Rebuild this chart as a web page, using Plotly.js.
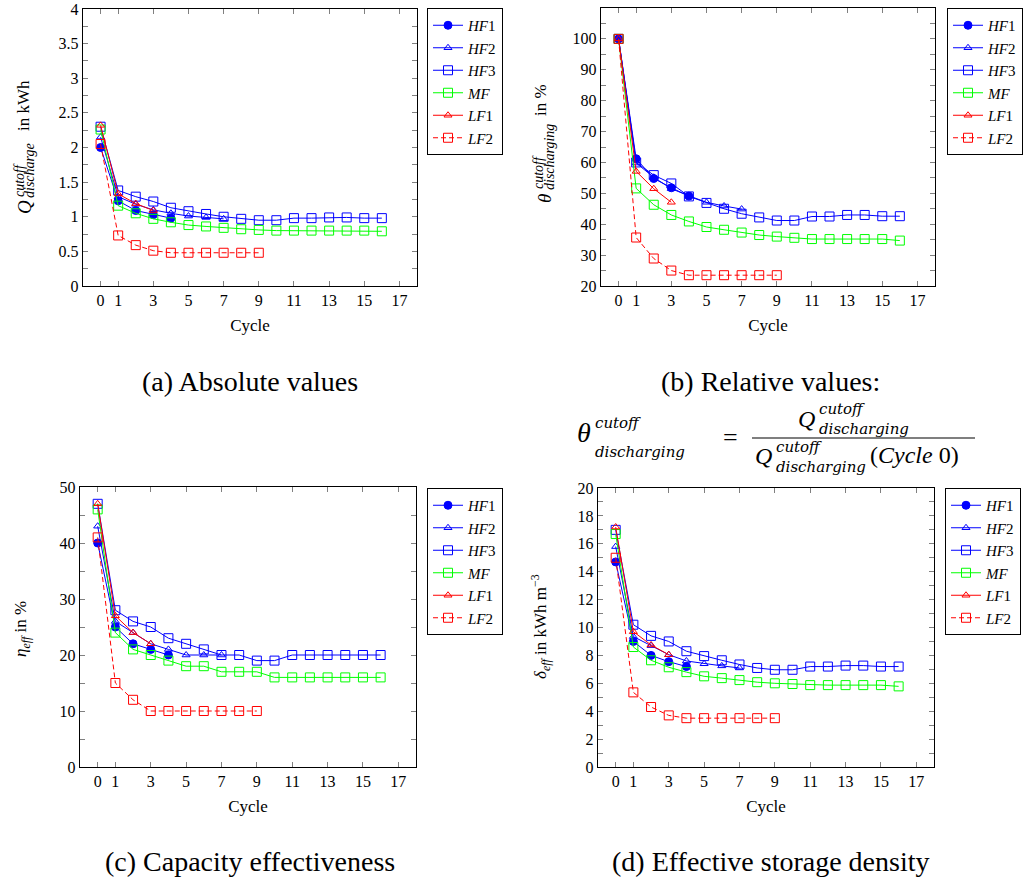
<!DOCTYPE html>
<html><head><meta charset="utf-8">
<script src="https://cdn.plot.ly/plotly-3.0.1.min.js"></script>
<style>html,body{margin:0;padding:0;background:#fff}#chart{width:1028px;height:888px}</style>
</head><body><div id="chart"></div>
<script>
// ---- categories (cycles) ----
const cyclesHF1 = [0,1,2,3,4];
const cyclesHF2 = [0,1,2,3,4,5,6,7];
const cyclesHF3 = [0,1,2,3,4,5,6,7,8,9,10,11,12,13,14,15,16];
const cyclesMF  = [0,1,2,3,4,5,6,7,8,9,10,11,12,13,14,15,16];
const cyclesLF1 = [0,1,2,3];
const cyclesLF2 = [0,1,2,3,4,5,6,7,8,9];

// ---- (a) absolute values, kWh ----
const absHF1 = [2.00,1.23,1.09,1.03,0.98];
const absHF2 = [2.15,1.29,1.18,1.10,1.05,1.01,0.99,0.97];
const absHF3 = [2.30,1.38,1.29,1.22,1.13,1.08,1.04,1.00,0.97,0.95,0.95,0.98,0.98,0.99,0.99,0.98,0.98];
const absMF  = [2.26,1.16,1.05,0.97,0.92,0.88,0.86,0.84,0.82,0.81,0.80,0.80,0.80,0.80,0.80,0.80,0.79];
const absLF1 = [2.32,1.33,1.19,1.09];
const absLF2 = [2.05,0.73,0.59,0.51,0.48,0.48,0.48,0.48,0.48,0.48];

// ---- (b) relative values, % ----
const relHF1 = [100,61.2,54.8,51.8,49.1];
const relHF2 = [100,59.8,55.2,51.5,49.2,47.1,45.9,44.9];
const relHF3 = [100,60.0,55.9,53.2,49.0,46.9,45.0,43.4,42.2,41.2,41.2,42.5,42.5,43.0,43.0,42.6,42.6];
const relMF  = [100,51.6,46.3,43.0,40.9,39.1,38.2,37.3,36.5,36.0,35.6,35.2,35.2,35.2,35.2,35.2,34.7];
const relLF1 = [100,57.1,51.5,47.1];
const relLF2 = [100,35.7,28.9,25.0,23.5,23.5,23.5,23.5,23.5,23.5];

// ---- (c) capacity effectiveness, % ----
const etaHF1 = [40,25,22,21,20];
const etaHF2 = [43,26,24,22,21,20,20,20];
const etaHF3 = [47,28,26,25,23,22,21,20,20,19,19,20,20,20,20,20,20];
const etaMF  = [46,24,21,20,19,18,18,17,17,17,16,16,16,16,16,16,16];
const etaLF1 = [47,27,24,22];
const etaLF2 = [41,15,12,10,10,10,10,10,10,10];

// ---- (d) effective storage density, kWh m^-3 ----
const delHF1 = [14.7,9.0,8.0,7.55,7.2];
const delHF2 = [15.8,9.35,8.7,8.05,7.6,7.4,7.25,7.1];
const delHF3 = [17.0,10.2,9.4,9.0,8.3,7.95,7.65,7.35,7.1,6.97,6.97,7.2,7.2,7.27,7.27,7.2,7.2];
const delMF  = [16.7,8.6,7.65,7.15,6.8,6.5,6.37,6.23,6.08,6.0,5.95,5.87,5.87,5.87,5.87,5.87,5.78];
const delLF1 = [17.2,9.7,8.75,8.05];
const delLF2 = [15.0,5.35,4.3,3.7,3.5,3.5,3.5,3.5,3.5,3.5];

// ---- series names / tick labels ----
const seriesNames = ['<i>HF</i>1','<i>HF</i>2','<i>HF</i>3','<i>MF</i>','<i>LF</i>1','<i>LF</i>2'];
const xTickVals = [0,1,3,5,7,9,11,13,15,17];

// ---- styles ----
const F = '"Liberation Serif", "DejaVu Serif", "Times New Roman", serif';
const FM = '"DejaVu Serif", "Liberation Serif", serif';
const BLUE='#0000ff', GREEN='#00ff00', RED='#ff0000';
const styles = [
  {color:BLUE, symbol:'circle', size:8, dash:'solid'},
  {color:BLUE, symbol:'triangle-up-open', size:7, dash:'solid'},
  {color:BLUE, symbol:'square-open', size:9, dash:'solid'},
  {color:GREEN, symbol:'square-open', size:9, dash:'solid'},
  {color:RED, symbol:'triangle-up-open', size:7, dash:'solid'},
  {color:RED, symbol:'square-open', size:9, dash:'5px,3px'}
];
const cycles = [cyclesHF1,cyclesHF2,cyclesHF3,cyclesMF,cyclesLF1,cyclesLF2];
const panels = [
  {vals:[absHF1,absHF2,absHF3,absMF,absLF1,absLF2], xa:'x', ya:'y', lg:'legend'},
  {vals:[relHF1,relHF2,relHF3,relMF,relLF1,relLF2], xa:'x2', ya:'y2', lg:'legend2'},
  {vals:[etaHF1,etaHF2,etaHF3,etaMF,etaLF1,etaLF2], xa:'x3', ya:'y3', lg:'legend3'},
  {vals:[delHF1,delHF2,delHF3,delMF,delLF1,delLF2], xa:'x4', ya:'y4', lg:'legend4'}
];
const traces = [];
panels.forEach(p => {
  p.vals.forEach((v,i) => {
    const s = styles[i];
    traces.push({
      type:'scatter', mode:'lines+markers', x:cycles[i], y:v, name:seriesNames[i],
      xaxis:p.xa, yaxis:p.ya, legend:p.lg,
      line:{color:s.color, width:1, dash:s.dash},
      marker:{symbol:s.symbol, size:s.size, color:s.color, line:{color:s.color, width:1}}
    });
  });
});

const W=1028, H=888;
const X = p => p/W;
const Y = p => 1 - p/H;

function xax(d0,d1,anchor){
  return {domain:[X(d0),X(d1)], anchor:anchor, range:[-1,18], tickmode:'array', tickvals:xTickVals,
    showline:true, linecolor:'#000', linewidth:1.2, mirror:'ticks', ticks:'inside', ticklen:5,
    tickcolor:'#808080', tickwidth:1, showgrid:false, zeroline:false,
    tickfont:{family:F,size:16,color:'#000'},
    title:{text:'Cycle', font:{family:F,size:17,color:'#000'}, standoff:10}};
}
function yax(d0,d1,anchor,range,tickvals,minorDt){
  return {domain:[Y(d1),Y(d0)], anchor:anchor, range:range, tickmode:'array', tickvals:tickvals,
    showline:true, linecolor:'#000', linewidth:1.2, mirror:'ticks', ticks:'inside', ticklen:5,
    tickcolor:'#808080', tickwidth:1, showgrid:false, zeroline:false,
    tickfont:{family:F,size:16,color:'#000'},
    minor:{ticks:'inside', ticklen:5, tickcolor:'#808080', tickmode:'linear', tick0:0, dtick:minorDt, showgrid:false}};
}
function legendAt(px,py){
  return {x:X(px), y:Y(py), xanchor:'left', yanchor:'top', bordercolor:'#000', borderwidth:1,
    bgcolor:'#fff', font:{family:F,size:15,color:'#000'}, tracegroupgap:0};
}
function ann(text,px,py,size,angle,xanchor,fam){
  return {text:text, x:X(px), y:Y(py), xref:'paper', yref:'paper', showarrow:false, borderpad:0,
    xanchor:xanchor||'center', yanchor:'middle', textangle:angle||0, font:{family:fam||F,size:size,color:'#000'}};
}

const annotations = [
  // y-axis titles
  ann('<i>Q</i>',24,207,19,-90), ann('<i>cutoff</i>',19,180,14,-90), ann('<i>discharge</i>',30,171,14,-90), ann('in kWh',23,106,17,-90),
  ann('<i>θ</i>',544,199,19,-90), ann('<i>cutoff</i>',538,172,14,-90), ann('<i>discharging</i>',549,157,14,-90), ann('in %',541,100,17,-90),
  ann('<i>η</i><sub><i>eff</i></sub> in %',22,629,17,-90),
  ann('<i>δ</i><sub><i>eff</i></sub> in kWh m<sup>−3</sup>',540,627,17,-90),
  // captions
  ann('(a) Absolute values',250,381,28), ann('(b) Relative values:',770,381,28),
  ann('(c) Capacity effectiveness',250,861,28), ann('(d) Effective storage density',770,861,28),
  // formula
  ann('<i>θ</i>',576,433,28,0,'left'), ann('<i>cutoff</i>',594,423,15,0,'left',FM), ann('<i>discharging</i>',594,452,15,0,'left',FM),
  ann('=',730,437,26),
  ann('<i>Q</i>',797,419,24,0,'left'), ann('<i>cutoff</i>',818,409,15,0,'left',FM), ann('<i>discharging</i>',818,429,15,0,'left',FM),
  ann('<i>Q</i>',754,456,24,0,'left'), ann('<i>cutoff</i>',775,447,15,0,'left',FM), ann('<i>discharging</i>',775,467,15,0,'left',FM),
  ann('(<i>Cycle</i> 0)',869,455,24,0,'left')
];

const layout = {
  width:W, height:H, margin:{l:0,r:0,t:0,b:0}, paper_bgcolor:'#fff', plot_bgcolor:'#fff',
  font:{family:F,color:'#000'}, showlegend:true,
  xaxis:xax(83,417,'y'),   yaxis:yax(9,286,'x',[0,4],[0,0.5,1,1.5,2,2.5,3,3.5,4],0.25),
  xaxis2:xax(601,935,'y2'), yaxis2:yax(8,286,'x2',[20,110],[20,30,40,50,60,70,80,90,100],5),
  xaxis3:xax(80,416,'y3'), yaxis3:yax(487,767,'x3',[0,50],[0,10,20,30,40,50],5),
  xaxis4:xax(598,934,'y4'), yaxis4:yax(488,767,'x4',[0,20],[0,2,4,6,8,10,12,14,16,18,20],1),
  legend:legendAt(427,8), legend2:legendAt(947,8), legend3:legendAt(427,488), legend4:legendAt(945,488),
  annotations:annotations,
  shapes:[{type:'line', xref:'paper', yref:'paper', x0:X(752), x1:X(975), y0:Y(438), y1:Y(438), line:{color:'#000', width:1.2}}]
};

Plotly.newPlot('chart', traces, layout, {displayModeBar:false, staticPlot:true});
</script>
</body></html>
